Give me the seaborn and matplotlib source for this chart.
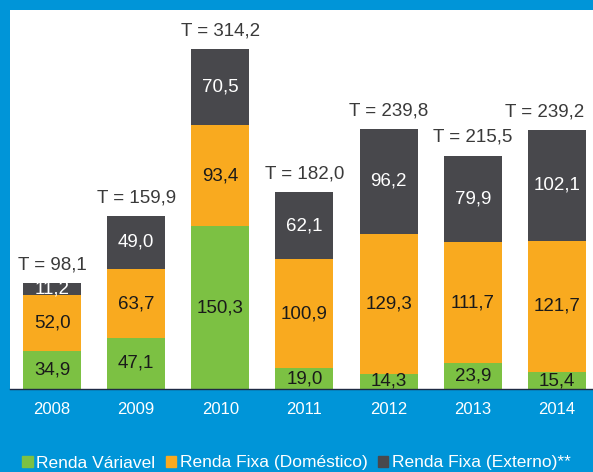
import matplotlib
matplotlib.use("Agg")
import matplotlib.pyplot as plt
import seaborn as sns
import pandas as pd
from matplotlib.patches import Patch

years = ["2008", "2009", "2010", "2011", "2012", "2013", "2014"]
renda_variavel = [34.9, 47.1, 150.3, 19.0, 14.3, 23.9, 15.4]
renda_fixa_dom = [52.0, 63.7, 93.4, 100.9, 129.3, 111.7, 121.7]
renda_fixa_ext = [11.2, 49.0, 70.5, 62.1, 96.2, 79.9, 102.1]
totals = [98.1, 159.9, 314.2, 182.0, 239.8, 215.5, 239.2]

green = "#7cc143"
orange = "#f9aa1f"
dark = "#48484c"
blue = "#0095d8"

df = pd.DataFrame({"ano": years, "rv": renda_variavel,
                   "rfd": renda_fixa_dom, "rfe": renda_fixa_ext})
df["b2"] = df["rv"]
df["b3"] = df["rv"] + df["rfd"]

sns.set_style("white")
plt.rcParams["font.family"] = ["Liberation Sans", "DejaVu Sans"]

fig = plt.figure(figsize=(5.93, 4.72), dpi=100, facecolor=blue)
ax = fig.add_axes([10 / 593, 83 / 472, 583 / 593, 379 / 472])
ax.set_facecolor("white")

w = 0.69
sns.barplot(data=df, x="ano", y="rv", color=green, width=w, ax=ax, saturation=1, linewidth=0)
sns.barplot(data=df, x="ano", y="rfd", bottom=df["b2"], color=orange, width=w, ax=ax,
            saturation=1, linewidth=0)
sns.barplot(data=df, x="ano", y="rfe", bottom=df["b3"], color=dark, width=w, ax=ax,
            saturation=1, linewidth=0)

fmt = lambda v: f"{v:.1f}".replace(".", ",")
fs = 13.5
for i in range(len(years)):
    ax.text(i, renda_variavel[i] / 2, fmt(renda_variavel[i]), ha="center", va="center",
            fontsize=fs, color="#1a1a1a")
    ax.text(i, df["b2"][i] + renda_fixa_dom[i] / 2, fmt(renda_fixa_dom[i]), ha="center",
            va="center", fontsize=fs, color="#1a1a1a")
    ax.text(i, df["b3"][i] + renda_fixa_ext[i] / 2, fmt(renda_fixa_ext[i]), ha="center",
            va="center", fontsize=fs, color="white")
    # last total label sits a bit left so it stays inside the frame
    tx = i - 0.14 if i == len(years) - 1 else i
    ax.text(tx, totals[i] + 9, "T = " + fmt(totals[i]), ha="center", va="bottom",
            fontsize=fs, color="#3a3a3a")

ax.set_xlim(-0.5, 6.43)
ax.set_ylim(0, 350)
ax.set_yticks([])
ax.set_xlabel("")
ax.set_ylabel("")
for s in ["top", "right", "left"]:
    ax.spines[s].set_visible(False)
ax.spines["bottom"].set_color("#1f2a44")
ax.spines["bottom"].set_linewidth(1)
ax.set_xticks(range(len(years)))
ax.set_xticklabels(years, color="white", fontsize=12)
ax.tick_params(axis="x", length=0, pad=9)
ax.set_xticks([i - 0.5 for i in range(len(years))], minor=True)
ax.tick_params(axis="x", which="minor", length=5, color="#1f2a44", direction="out")

handles = [Patch(color=green, label="Renda Váriavel"),
           Patch(color=orange, label="Renda Fixa (Doméstico)"),
           Patch(color=dark, label="Renda Fixa (Externo)**")]
leg = fig.legend(handles=handles, loc="center", bbox_to_anchor=(0.5, 9 / 472), ncol=3,
                 frameon=False, fontsize=12.5, handlelength=0.6, handleheight=0.6,
                 handletextpad=0.2, columnspacing=0.6, labelcolor="white")

fig.savefig("out.png", dpi=100, facecolor=blue)
